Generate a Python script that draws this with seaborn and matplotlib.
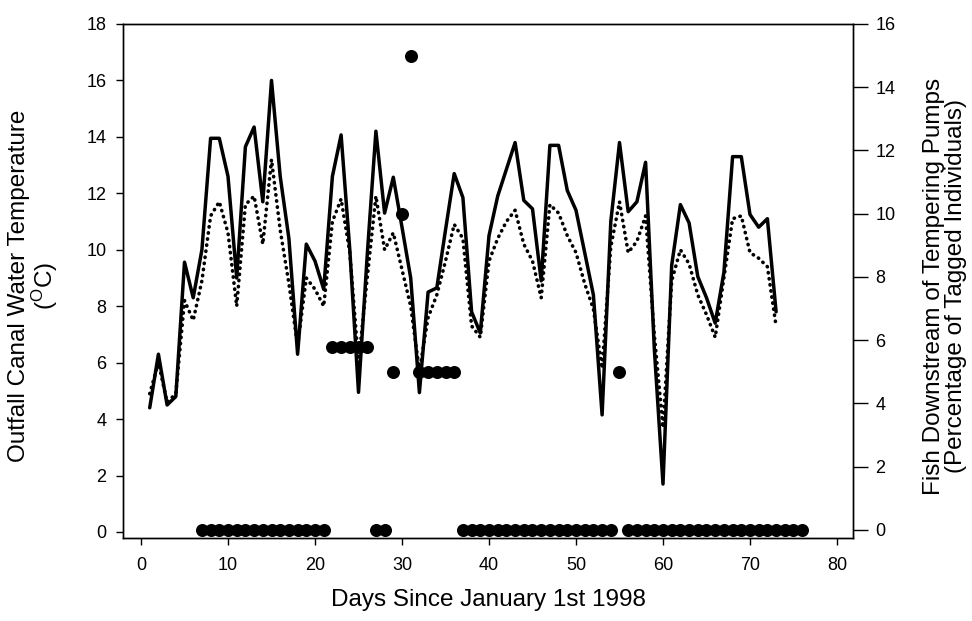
import numpy as np
import pandas as pd
import matplotlib
matplotlib.use("Agg")
import matplotlib.pyplot as plt
import seaborn as sns

# ---- data ----
days = list(range(1, 74))
temp_solid = [4.4, 6.3, 4.5, 4.8, 9.56, 8.3, 10.0, 13.95, 13.95, 12.6,
              9.0, 13.65, 14.35, 11.7, 16.0, 12.6, 10.4, 6.3, 10.2, 9.6,
              8.6, 12.6, 14.07, 10.0, 4.95, 9.8, 14.2, 11.3, 12.57, 10.8,
              9.0, 4.94, 8.5, 8.65, 10.7, 12.7, 11.85, 7.8, 7.05, 10.5,
              11.9, 12.85, 13.8, 11.75, 11.45, 8.9, 13.7, 13.7, 12.1, 11.4,
              9.9, 8.4, 4.15, 11.0, 13.8, 11.35, 11.7, 13.1, 6.5, 1.7,
              9.45, 11.6, 10.95, 9.05, 8.3, 7.4, 9.2, 13.3, 13.3, 11.25,
              10.8, 11.1, 7.8]
temp_dotted = [4.9, 6.0, 4.6, 4.9, 8.2, 7.5, 8.9, 11.2, 11.7, 10.6,
               8.0, 11.6, 11.9, 10.2, 13.2, 10.7, 8.8, 6.6, 9.0, 8.6,
               8.0, 11.0, 11.8, 9.9, 6.0, 9.0, 11.9, 10.0, 10.6, 9.3,
               8.0, 5.7, 7.6, 8.4, 9.6, 10.9, 10.4, 7.3, 6.9, 9.6,
               10.4, 11.0, 11.4, 10.2, 9.6, 8.3, 11.6, 11.3, 10.5, 9.9,
               8.8, 7.9, 5.8, 10.1, 11.7, 9.9, 10.3, 11.2, 7.0, 3.7,
               8.9, 10.0, 9.5, 8.4, 7.7, 6.9, 9.0, 11.1, 11.2, 9.9,
               9.7, 9.4, 7.3]

fish_days = list(range(7, 77))
fish_pct = ([0] * 15 + [5.8] * 5 + [0] * 2 + [5, 10, 15] + [5] * 5
            + [0] * 18 + [5] + [0] * 21)

x_ticks = [0, 10, 20, 30, 40, 50, 60, 70, 80]
left_ticks = [0, 2, 4, 6, 8, 10, 12, 14, 16, 18]
right_ticks = [0, 2, 4, 6, 8, 10, 12, 14, 16]

# ---- style ----
sns.set_style("ticks")
plt.rcParams['font.family'] = ['Liberation Sans', 'DejaVu Sans']
plt.rcParams['mathtext.fontset'] = 'custom'
plt.rcParams['mathtext.rm'] = 'Liberation Sans'
plt.rcParams['mathtext.it'] = 'Liberation Sans'
plt.rcParams['text.color'] = 'black'
plt.rcParams['axes.labelcolor'] = 'black'
plt.rcParams['xtick.color'] = 'black'
plt.rcParams['ytick.color'] = 'black'

fig = plt.figure(figsize=(9.72, 6.21), dpi=100)
ax = fig.add_axes([123 / 972, 1 - 538 / 621, 730 / 972, 514 / 621])

df = pd.DataFrame({"day": days, "solid": temp_solid, "dotted": temp_dotted})
sns.lineplot(data=df, x="day", y="solid", ax=ax, color="black", lw=2.5,
             estimator=None)
sns.lineplot(data=df, x="day", y="dotted", ax=ax, color="black", lw=2.6,
             estimator=None, linestyle=(0, (0.1, 1.6)),
             dash_capstyle="round")

ax.set_xlim(-2.07, 81.84)
ax.set_ylim(-0.213, 18)
ax.set_xticks(x_ticks)
ax.set_yticks(left_ticks)

ax2 = ax.twinx()
fdf = pd.DataFrame({"day": fish_days, "pct": fish_pct})
sns.scatterplot(data=fdf, x="day", y="pct", ax=ax2, color="black", s=88,
                linewidth=0, clip_on=False, zorder=5)
ax2.set_ylim(-0.253, 16)
ax2.set_yticks(right_ticks)

for a in (ax, ax2):
    for sp in a.spines.values():
        sp.set_visible(True)
        sp.set_linewidth(1.0)
        sp.set_color("black")

ax.tick_params(axis="x", direction="out", length=5, width=1, pad=8.5,
               labelsize=13, colors="black")
ax.tick_params(axis="y", direction="out", length=5, width=1, pad=7,
               labelsize=13, colors="black")
ax2.tick_params(axis="y", direction="out", length=11, width=1, pad=5,
                labelsize=13, colors="black")

ax.set_xlabel("Days Since January 1st 1998", fontsize=17.5, color="black")
ax.xaxis.set_label_coords(0.5, -0.12)
ax.xaxis.label.set_va("center")

ax.set_ylabel("Outfall Canal Water Temperature\n(${}^{\\mathrm{O}}$C)",
              fontsize=17.5, linespacing=0.95, color="black")
ax.yaxis.set_label_coords((34 - 123) / 730, 0.49)
ax.yaxis.label.set_va("center")

ax2.set_ylabel("Fish Downstream of Tempering Pumps\n(Percentage of Tagged Individuals)",
               fontsize=17.5, linespacing=0.95, color="black")
ax2.yaxis.set_label_coords((945 - 123) / 730, 0.49)
ax2.yaxis.label.set_va("center")

fig.savefig("out.png", dpi=100)
